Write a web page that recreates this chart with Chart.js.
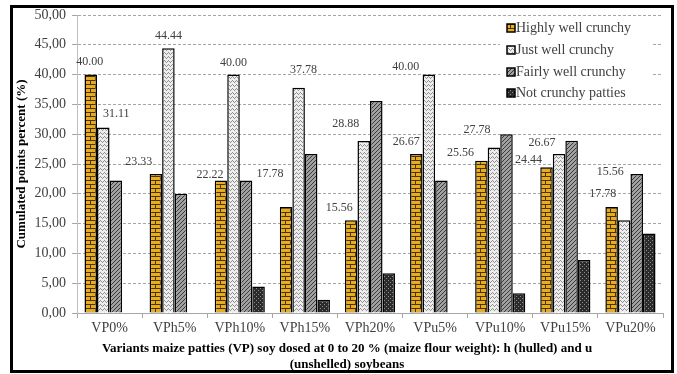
<!DOCTYPE html>
<html>
<head>
<meta charset="utf-8">
<title>Crunchiness of maize patties</title>
<script src="https://cdn.jsdelivr.net/npm/chart.js"></script>
<style>
    body { margin: 0; background: #fff; }
    .wrap { position: relative; width: 677px; height: 374px; }
    .frame { position: absolute; left: 10px; top: 5px; width: 658px; height: 362px; border: 3px solid #000; pointer-events: none; }
    canvas { position: absolute; left: 0; top: 0; }
</style>
</head>
<body>
<div class="wrap">
    <canvas id="chart" width="677" height="374"></canvas>
    <div class="frame"></div>
</div>
<script>
// data
const variants = ['VP0%', 'VPh5%', 'VPh10%', 'VPh15%', 'VPh20%', 'VPu5%', 'VPu10%', 'VPu15%', 'VPu20%'];
const highlyWell = [40.00, 23.33, 22.22, 17.78, 15.56, 26.67, 25.56, 24.44, 17.78];
const justWell = [31.11, 44.44, 40.00, 37.78, 28.88, 40.00, 27.78, 26.67, 15.56];
const fairlyWell = [22.22, 20.00, 22.22, 26.67, 35.56, 22.22, 30.00, 28.89, 23.33];
const notCrunchy = [0.00, 0.00, 4.44, 2.22, 6.67, 0.00, 3.33, 8.89, 13.33];
const seriesNames = ['Highly well crunchy', 'Just well crunchy', 'Fairly well crunchy', 'Not crunchy patties'];
const xTitle = ['Variants maize patties (VP) soy dosed at 0 to 20 % (maize flour weight): h (hulled) and u', '(unshelled) soybeans'];

// hand-placed label offsets (px) like in the original, [dx, dy] from bar top centre
const labelNudge = [
    [[-1, -13], [-17, -12], [-11, -6], [-16, -33], [-12, -12], [-10, -12], [-21, -8], [-18, -7], [-9, -13]],
    [[13, -14], [0, -12], [0, -12], [5, -18], [-18, -17], [-23, -8], [-17, -18], [-17, -11], [-14, -48]]
];

const serif = '"Liberation Serif", "Times New Roman", serif';
const ctx = document.getElementById('chart').getContext('2d');

function makePattern(w, h, draw) {
    const c = document.createElement('canvas');
    c.width = w; c.height = h;
    const g = c.getContext('2d');
    draw(g);
    return ctx.createPattern(c, 'repeat');
}

// brick
const brick = makePattern(10, 8, function (g) {
    g.fillStyle = '#e8ad1f'; g.fillRect(0, 0, 10, 8);
    g.fillStyle = '#4a3300';
    g.fillRect(0, 0, 10, 1); g.fillRect(0, 4, 10, 1);
    g.fillRect(0, 1, 1, 3); g.fillRect(5, 5, 1, 3);
});
// wave
const wave = makePattern(4, 4, function (g) {
    g.fillStyle = '#eeeeee'; g.fillRect(0, 0, 4, 4);
    g.fillStyle = '#909090';
    g.fillRect(0, 0, 1, 1); g.fillRect(1, 1, 1, 1); g.fillRect(2, 2, 1, 1); g.fillRect(3, 1, 1, 1);
});
// diagonal
const diag = makePattern(4, 4, function (g) {
    g.fillStyle = '#a0a0a0'; g.fillRect(0, 0, 4, 4);
    g.fillStyle = '#3a3a3a';
    g.fillRect(3, 0, 1, 1); g.fillRect(2, 1, 1, 1); g.fillRect(1, 2, 1, 1); g.fillRect(0, 3, 1, 1);
});
// dark check
const check = makePattern(4, 4, function (g) {
    g.fillStyle = '#2b2b2b'; g.fillRect(0, 0, 4, 4);
    g.fillStyle = '#8c8c8c';
    g.fillRect(0, 0, 1, 1); g.fillRect(2, 2, 1, 1);
});
const fills = [brick, wave, diag, check];

const dataLabels = {
    id: 'dataLabels',
    afterDatasetsDraw(chart) {
        const c = chart.ctx;
        c.save();
        c.font = '12px ' + serif;
        c.fillStyle = '#404040';
        c.textAlign = 'center';
        c.textBaseline = 'middle';
        [0, 1].forEach(function (d) {
            chart.getDatasetMeta(d).data.forEach(function (bar, i) {
                const v = chart.data.datasets[d].data[i];
                const n = labelNudge[d][i];
                c.fillText(v.toFixed(2), bar.x + n[0], bar.y + n[1]);
            });
        });
        c.restore();
    }
};

// legend box inside the plot, top right, on white
const boxLegend = {
    id: 'boxLegend',
    afterDraw(chart) {
        const c = chart.ctx;
        c.save();
        c.fillStyle = '#fff';
        c.fillRect(500, 18, 152, 84);
        c.font = '14px ' + serif;
        c.textBaseline = 'middle';
        const rows = [28, 50, 72, 93];
        chart.data.datasets.forEach(function (ds, i) {
            c.fillStyle = ds.backgroundColor;
            c.fillRect(507, rows[i] - 4, 8, 8);
            c.strokeStyle = '#000';
            c.lineWidth = 1.5;
            c.strokeRect(507, rows[i] - 4, 8, 8);
            c.fillStyle = '#404040';
            c.fillText(ds.label, 516, rows[i]);
        });
        c.restore();
    }
};

// x title is centred on the whole frame, not on the plot
const xTitleText = {
    id: 'xTitleText',
    afterDraw(chart) {
        const c = chart.ctx;
        c.save();
        c.font = 'bold 13px ' + serif;
        c.fillStyle = '#000';
        c.textAlign = 'center';
        c.textBaseline = 'middle';
        c.fillText(xTitle[0], 347, 349);
        c.fillText(xTitle[1], 347, 365);
        c.restore();
    }
};

new Chart(ctx, {
    type: 'bar',
    data: {
        labels: variants,
        datasets: [highlyWell, justWell, fairlyWell, notCrunchy].map(function (vals, i) {
            return {
                label: seriesNames[i],
                data: vals,
                backgroundColor: fills[i],
                borderColor: '#000',
                borderWidth: 1.5,
                categoryPercentage: 0.77,
                barPercentage: 1.0
            };
        })
    },
    options: {
        responsive: false,
        animation: false,
        layout: { padding: { left: 13, right: 14, top: 15, bottom: 1 } },
        plugins: { legend: { display: false }, tooltip: { enabled: false } },
        scales: {
            x: {
                grid: { drawOnChartArea: false, drawTicks: true, tickLength: 5, color: '#a6a6a6' },
                border: { color: '#a6a6a6' },
                ticks: { color: '#404040', font: { family: serif, size: 14 }, padding: 2 },
                afterFit(scale) { scale.height = 60; }
            },
            y: {
                min: 0,
                max: 50,
                grid: { color: '#a6a6a6', tickLength: 5 },
                border: { color: '#bfbfbf', dash: [3, 2] },
                ticks: {
                    stepSize: 5,
                    color: '#404040',
                    font: { family: serif, size: 14 },
                    padding: 6,
                    callback: function (v) { return v.toFixed(2).replace('.', ','); }
                },
                title: {
                    display: true,
                    text: 'Cumulated points percent (%)',
                    color: '#000',
                    font: { family: serif, size: 13, weight: 'bold', lineHeight: 1.2 },
                    padding: { top: 1, bottom: 0 }
                },
                afterFit(scale) { scale.width = 64; }
            }
        }
    },
    plugins: [dataLabels, boxLegend, xTitleText]
});
</script>
</body>
</html>
